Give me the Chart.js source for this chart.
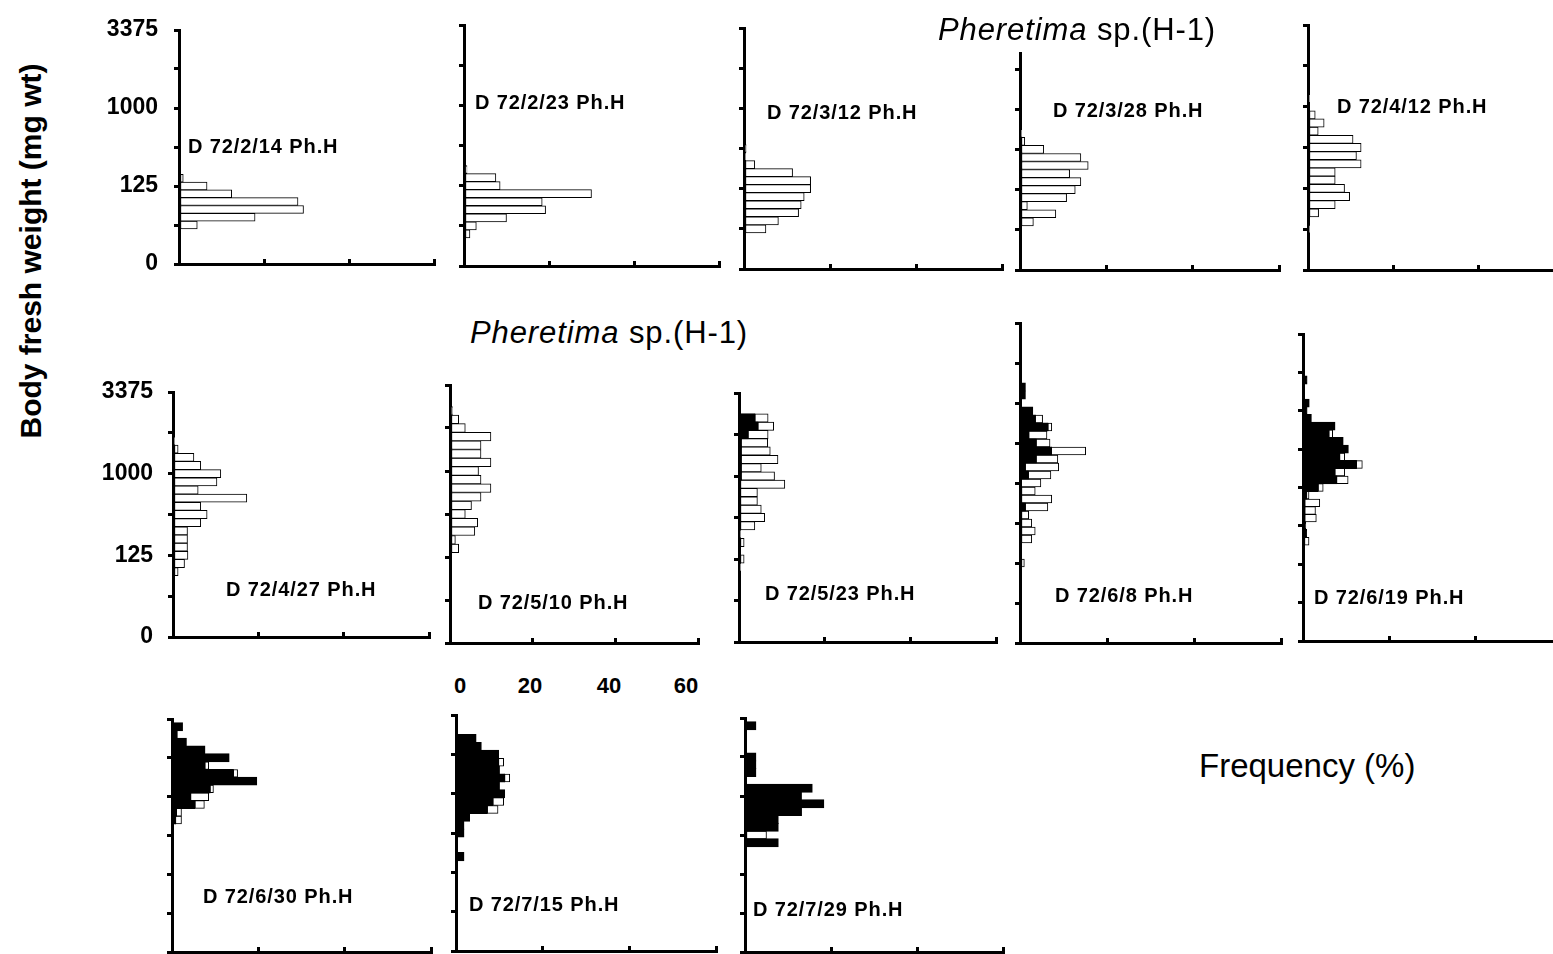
<!DOCTYPE html>
<html>
<head>
<meta charset="utf-8">
<script src="https://cdn.jsdelivr.net/npm/chart.js@4.4.1/dist/chart.umd.min.js"></script>
<style>
  html, body { margin: 0; padding: 0; background: #fff; }
  #fig { position: relative; width: 1553px; height: 954px; overflow: hidden;
         font-family: 'Liberation Sans', Arial, sans-serif; color: #000; }
  .panel { position: absolute; }
  .tag { position: absolute; font-weight: bold; font-size: 20px; letter-spacing: 0.9px;
         line-height: 24px; white-space: nowrap; }
  .species { position: absolute; font-size: 31px; line-height: 36px; white-space: nowrap; letter-spacing: 0.9px; }
  .freq { position: absolute; font-size: 33px; line-height: 40px; white-space: nowrap; }
  .ytitle { position: absolute; width: 440px; height: 36px; line-height: 36px; text-align: center;
            font-size: 30px; font-weight: bold; white-space: nowrap; transform: rotate(-90deg); }
  .xnum { position: absolute; width: 40px; text-align: center; font-size: 22px; font-weight: bold; line-height: 26px; }
</style>
</head>
<body>
<div id="fig"></div>
<script>
// Bin centres are cube-root weight units (5 -> 125 mg, 10 -> 1000 mg, 15 -> 3375 mg), 0.5 apart.
// Values are frequency (%), listed from the lowest bin upward.
// open = white bars, solid = black bars (stacked after each other).

const weightTicks = { 0: '0', 5: '125', 10: '1000', 15: '3375' };
const freqTicks = ['0', '20', '40', '60'];

// row 1
const feb14Low = 2.5;
const feb14Open = [4.3, 17.9, 29.3, 28.0, 12.4, 6.6, 1.0];

const feb23Low = 2.0;
const feb23Open = [1.4, 2.9, 10.0, 19.2, 18.4, 30.0, 8.5, 7.5, 0.7];

const mar12Low = 2.5;
const mar12Open = [5.1, 8.0, 12.7, 13.3, 14.0, 15.5, 15.5, 11.3, 2.5, 0.4, 0.5];

const mar28Low = 3.0;
const mar28Open = [3.1, 8.3, 1.7, 10.8, 12.8, 14.1, 11.5, 15.8, 14.1, 5.5, 1.1, 0.3];

const apr12Low = 2.5;
const apr12Open = [0.4, 0, 2.5, 6.4, 9.8, 8.6, 6.4, 6.4, 12.5, 11.4, 12.5, 10.6, 2.4, 3.8, 1.7, 0, 0.4];

// row 2
const apr27Low = 4.0;
const apr27Open = [1.2, 2.7, 3.5, 3.4, 3.4, 3.4, 6.5, 8.0, 6.5, 17.3, 5.9, 10.3, 11.2, 6.5, 4.9, 1.2, 0.4];

const may10Low = 5.5;
const may10Open = [2.1, 1.3, 6.0, 6.7, 3.7, 5.2, 7.5, 9.9, 7.5, 6.9, 9.9, 7.5, 7.5, 9.9, 3.7, 2.1, 0.6];

const may23Low = 4.5;
const may23Open  = [0.4, 1.2, 0, 1.2, 0.4, 3.7, 6.0, 5.2, 4.3, 4.3, 10.7, 7.8, 4.7, 8.6, 6.8, 6.2, 4.7, 3.7, 3.1];
const may23Solid = [0, 0, 0, 0, 0, 0, 0, 0, 0, 0, 0, 0.5, 0.5, 0.5, 0.5, 0.5, 2.1, 4.4, 3.7];

const jun8Low = 5.0;
const jun8Open  = [1.0, 0, 0, 2.7, 3.5, 2.7, 2.0, 5.2, 7.3, 3.5, 4.5, 5.2, 7.7, 5.0, 7.9, 3.2, 4.2, 0.9, 1.7, 0, 0, 0, 0];
const jun8Solid = [0, 0, 0, 0, 0, 0, 0, 1.2, 0, 0, 0.3, 1.9, 1.2, 3.7, 7.2, 3.7, 2.0, 6.4, 3.5, 2.9, 0, 1.2, 1.2];

const jun19Low = 6.5;
const jun19Open  = [1.4, 0, 0, 2.7, 2.5, 3.5, 0.6, 1.2, 2.7, 2.3, 1.4, 1.2, 0, 0, 0.9, 0, 0, 0, 0, 0, 0, 0];
const jun19Solid = [0, 0.8, 0.6, 0.4, 0.4, 0.4, 0.8, 3.5, 7.8, 7.4, 12.4, 8.5, 10.5, 9.3, 6.0, 7.4, 1.9, 0.9, 1.4, 0, 0, 0.9];

// row 3
const jun30Low = 8.5;
const jun30Open  = [1.4, 1.2, 2.2, 4.2, 0.8, 0, 1.0, 0.9, 0, 0, 0, 0, 0];
const jun30Solid = [0.8, 1.0, 5.3, 4.3, 8.8, 19.6, 14.2, 7.6, 13.2, 7.6, 3.3, 1.2, 2.4];

const jul15Low = 6.0;
const jul15Open  = [0, 0, 0, 0, 0, 0, 2.5, 2.5, 0, 0, 1.2, 0, 1.2, 0, 0, 0];
const jul15Solid = [1.8, 0, 0, 1.8, 1.8, 3.1, 7.2, 8.5, 11.2, 10.0, 11.2, 10.0, 9.8, 9.8, 5.8, 4.6];

const jul29Low = 7.0;
const jul29Open  = [0, 5.0, 0, 0, 0, 0, 0, 0, 0, 0, 0, 0, 0, 0, 0, 0];
const jul29Solid = [7.7, 0, 7.7, 7.7, 13.1, 18.3, 13.1, 15.6, 0, 2.5, 2.5, 2.5, 0, 0, 0, 2.5];

// panel layout: axis = x of the weight axis, top/bottom = ends of that axis, right = end of 60 %
const panels = [
  { date: 'D 72/2/14 Ph.H', low: feb14Low, open: feb14Open, axis: 178, top: 30, bottom: 264, right: 433, ymax: 15, labels: true, tag: [188, 146] },
  { date: 'D 72/2/23 Ph.H', low: feb23Low, open: feb23Open, axis: 463, top: 25, bottom: 266, right: 718, ymax: 15, tag: [475, 102] },
  { date: 'D 72/3/12 Ph.H', low: mar12Low, open: mar12Open, axis: 743, top: 28, bottom: 269, right: 1001, ymax: 15, tag: [767, 112] },
  { date: 'D 72/3/28 Ph.H', low: mar28Low, open: mar28Open, axis: 1019, top: 53, bottom: 270, right: 1278, ymax: 13.5, tag: [1053, 110] },
  { date: 'D 72/4/12 Ph.H', low: apr12Low, open: apr12Open, axis: 1307, top: 25, bottom: 270, right: 1562, ymax: 15, tag: [1337, 106] },

  { date: 'D 72/4/27 Ph.H', low: apr27Low, open: apr27Open, axis: 172, top: 392, bottom: 637, right: 428, ymax: 15, labels: true, tag: [226, 589] },
  { date: 'D 72/5/10 Ph.H', low: may10Low, open: may10Open, axis: 449, top: 385, bottom: 643, right: 697, ymax: 15, tag: [478, 602] },
  { date: 'D 72/5/23 Ph.H', low: may23Low, open: may23Open, solid: may23Solid, axis: 738, top: 393, bottom: 642, right: 995, ymax: 15, tag: [765, 593] },
  { date: 'D 72/6/8 Ph.H', low: jun8Low, open: jun8Open, solid: jun8Solid, axis: 1019, top: 323, bottom: 643, right: 1280, ymax: 20, tag: [1055, 595] },
  { date: 'D 72/6/19 Ph.H', low: jun19Low, open: jun19Open, solid: jun19Solid, axis: 1302, top: 334, bottom: 641, right: 1560, ymax: 20, tag: [1314, 597] },

  { date: 'D 72/6/30 Ph.H', low: jun30Low, open: jun30Open, solid: jun30Solid, axis: 171, top: 719, bottom: 952, right: 430, ymax: 15, tag: [203, 896] },
  { date: 'D 72/7/15 Ph.H', low: jul15Low, open: jul15Open, solid: jul15Solid, axis: 455, top: 715, bottom: 951, right: 715, ymax: 15, tag: [469, 904] },
  { date: 'D 72/7/29 Ph.H', low: jul29Low, open: jul29Open, solid: jul29Solid, axis: 744, top: 718, bottom: 952, right: 1002, ymax: 15, tag: [753, 909] }
];

const fig = document.getElementById('fig');
const PAD = 16;
const FONT = "'Liberation Sans', Arial, sans-serif";

function toPoints(low, vals) {
  return vals.map((v, i) => ({ x: v ? v : null, y: low + i * 0.5 }));
}

function addText(cls, html, left, top) {
  const el = document.createElement('div');
  el.className = cls;
  el.innerHTML = html;
  el.style.left = left + 'px';
  el.style.top = top + 'px';
  fig.appendChild(el);
  return el;
}

// weight labels (0 / 125 / 1000 / 3375) placed on the y scale of the first column
const weightLabels = {
  id: 'weightLabels',
  afterDraw(chart, args, opts) {
    if (!opts.show) return;
    const { ctx, chartArea, scales } = chart;
    ctx.save();
    ctx.font = 'bold 23px ' + FONT;
    ctx.fillStyle = '#000';
    ctx.textAlign = 'right';
    ctx.textBaseline = 'middle';
    Object.keys(weightTicks).forEach(v => {
      ctx.fillText(weightTicks[v], chartArea.left - opts.gap, scales.y.getPixelForValue(+v));
    });
    ctx.restore();
  }
};

panels.forEach(p => {
  const yw = p.labels ? 90 : 8;
  const plotW = p.right - p.axis;
  const plotH = p.bottom - p.top;

  const box = document.createElement('div');
  box.className = 'panel';
  box.style.left = (p.axis - yw + 1) + 'px';
  box.style.top = (p.top - PAD) + 'px';
  const canvas = document.createElement('canvas');
  canvas.width = yw + plotW + 4;
  canvas.height = plotH + PAD * 2;
  box.appendChild(canvas);
  fig.appendChild(box);

  const datasets = [];
  if (p.solid) {
    datasets.push({
      label: 'solid',
      data: toPoints(p.low, p.solid),
      backgroundColor: '#000',
      borderColor: '#000',
      borderWidth: 1,
      borderSkipped: false,
      inflateAmount: 0.6,
      barPercentage: 1,
      categoryPercentage: 1
    });
  }
  datasets.push({
    label: 'open',
    data: toPoints(p.low, p.open),
    backgroundColor: '#fff',
    borderColor: '#000',
    borderWidth: 1,
    borderSkipped: false,
    barPercentage: 1,
    categoryPercentage: 1
  });

  new Chart(canvas, {
    type: 'bar',
    data: { datasets },
    plugins: [weightLabels],
    options: {
      indexAxis: 'y',
      responsive: false,
      animation: false,
      layout: { padding: { top: PAD, right: 4, left: 0, bottom: 0 } },
      plugins: {
        legend: { display: false },
        tooltip: { enabled: false },
        weightLabels: { show: !!p.labels, gap: p.top < 300 ? 21 : 20 }
      },
      scales: {
        y: {
          type: 'linear',
          min: 0,
          max: p.ymax,
          stacked: true,
          offset: false,
          ticks: { stepSize: 2.5, includeBounds: false, display: false },
          grid: { offset: false, drawOnChartArea: false, drawTicks: true, tickLength: 5, lineWidth: 3, color: '#000' },
          border: { display: true, width: 3, color: '#000' },
          afterFit: s => { s.width = yw; }
        },
        x: {
          type: 'linear',
          min: 0,
          max: 60,
          stacked: true,
          offset: false,
          ticks: { stepSize: 20, display: false },
          grid: { offset: false, drawOnChartArea: false, drawTicks: true, tickLength: -5, lineWidth: 3, color: '#000' },
          border: { display: true, width: 3, color: '#000' },
          afterFit: s => { s.height = PAD; }
        }
      }
    }
  });

  addText('tag', p.date, p.tag[0], p.tag[1] - 12);
});

// titles and loose labels
addText('species', '<i>Pheretima</i> sp.(H-1)', 938, 12);
addText('species', '<i>Pheretima</i> sp.(H-1)', 470, 315);
addText('freq', 'Frequency (%)', 1199, 746);
addText('ytitle', 'Body fresh weight (mg wt)', 31 - 220, 251 - 18);

const freqLabelX = [460, 530, 609, 686];
freqTicks.forEach((t, i) => addText('xnum', t, freqLabelX[i] - 20, 673));
</script>
</body>
</html>
